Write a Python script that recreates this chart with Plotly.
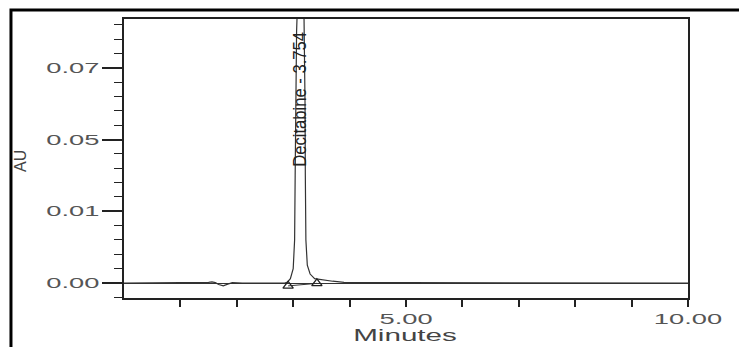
import plotly.graph_objects as go

# Chromatogram trace (minutes, AU on the chart's internal scale)
time_min = [0.0, 0.5, 1.0, 1.4, 1.5, 1.56, 1.62, 1.68, 1.76, 1.84, 1.92, 2.1, 2.5, 2.85,
            2.90, 2.95, 3.00, 3.025, 3.035, 3.045, 3.06, 3.10, 3.14, 3.18, 3.20, 3.21,
            3.215, 3.225, 3.25, 3.30, 3.38, 3.50, 3.70, 3.90, 4.20, 5.00, 6.00, 7.00, 8.00, 9.00, 10.0]
absorbance = [0.0, 0.0, 0.0, 0.0, 0.0002, 0.0003, 0.0001, -0.0004, -0.0008, -0.0003, 0.0001, 0.0, 0.0, 0.0,
              0.0003, 0.0012, 0.004, 0.012, 0.03, 0.05, 0.07, 0.09, 0.10, 0.09, 0.07, 0.05,
              0.03, 0.012, 0.005, 0.0025, 0.0012, 0.0009, 0.0005, 0.0002, 0.0001, 0.0001, 0.0001, 0.0, 0.0, 0.0, 0.0]

# Integration start / end markers
mark_time = [2.91, 3.42]
mark_abs = [-0.0008, -0.0001]

peak_label = "Decitabine - 3.754"
peak_time = 3.12
peak_label_y = 0.0512

y_tickvals = [0.0, 0.02, 0.04, 0.06]
y_ticktext = ["0.00", "0.01", "0.05", "0.07"]
y_minor_step = 0.004
x_tickvals = [1, 2, 3, 4, 5, 6, 7, 8, 9, 10]
x_ticktext = ["", "", "", "", "5.00", "", "", "", "", "10.00"]

y_minor_vals = [round(-0.004 + y_minor_step * i, 4) for i in range(20)]

fig = go.Figure()
fig.add_trace(go.Scatter(x=time_min, y=absorbance, mode="lines",
                         line=dict(color="#333333", width=1.2), showlegend=False,
                         hoverinfo="skip"))
fig.add_trace(go.Scatter(x=mark_time, y=mark_abs, mode="lines+markers",
                         line=dict(color="#333333", width=1),
                         marker=dict(symbol="triangle-up-open", size=9,
                                     color="#222222", line=dict(width=1.3)),
                         showlegend=False, hoverinfo="skip"))

tickfont = dict(family="Liberation Sans", size=14, color="#555555")

fig.update_layout(
    width=739, height=347,
    margin=dict(l=124, r=51, t=19, b=49),
    paper_bgcolor="white", plot_bgcolor="white",
    xaxis=dict(range=[0, 10], tickmode="array", tickvals=x_tickvals, ticktext=x_ticktext,
               ticks="outside", ticklen=7, tickwidth=1.5, tickcolor="#222222",
               showline=True, linecolor="#222222", linewidth=1.5, mirror=True,
               showgrid=False, zeroline=False, tickfont=tickfont),
    yaxis=dict(range=[-0.00418, 0.07364], tickmode="array", tickvals=y_tickvals,
               ticktext=y_ticktext, ticks="outside", ticklen=20, tickwidth=1.5,
               tickcolor="#222222", showline=True, linecolor="#222222", linewidth=1.5,
               mirror=True, showgrid=False, zeroline=True, zerolinecolor="#333333",
               zerolinewidth=1, tickfont=tickfont,
               minor=dict(tickmode="array", tickvals=y_minor_vals, ticks="outside",
                          ticklen=8, tickwidth=1.2, tickcolor="#222222", showgrid=False)),
    shapes=[dict(type="rect", xref="paper", yref="paper", x0=-0.2004, x1=1.12,
                 y0=-0.25, y1=1.0323, line=dict(color="black", width=3),
                 fillcolor="rgba(0,0,0,0)", layer="above")],
    annotations=[
        dict(text=peak_label, x=peak_time, y=peak_label_y, xref="x", yref="y",
             textangle=-90, showarrow=False,
             font=dict(family="Liberation Sans", size=18, color="#222222")),
        dict(text="Minutes", x=(405 - 124) / 564, y=(298 - 335) / 279, xref="paper",
             yref="paper", showarrow=False, xanchor="center", yanchor="middle",
             font=dict(family="Liberation Sans", size=16, color="#444444")),
        dict(text="AU", x=(21 - 124) / 564, y=(298 - 161) / 279, xref="paper",
             yref="paper", showarrow=False, textangle=-90, xanchor="center",
             yanchor="middle",
             font=dict(family="Liberation Sans", size=16, color="#444444")),
    ],
)

post = """
function stretch(t, f) {
  var w = t.getComputedTextLength();
  if (w > 0) {
    t.setAttribute('textLength', (w * f).toFixed(1));
    t.setAttribute('lengthAdjust', 'spacingAndGlyphs');
  }
}
document.querySelectorAll('.xtick text, .ytick text').forEach(function(t){ stretch(t, 1.95); });
document.querySelectorAll('.annotation-text').forEach(function(t){
  if (t.textContent === 'Minutes') { stretch(t, 1.85); }
  if (t.textContent.indexOf('Decitabine') === 0) {
    t.setAttribute('textLength', '135');
    t.setAttribute('lengthAdjust', 'spacingAndGlyphs');
  }
});
"""

fig.write_html("out.html", post_script=post)
